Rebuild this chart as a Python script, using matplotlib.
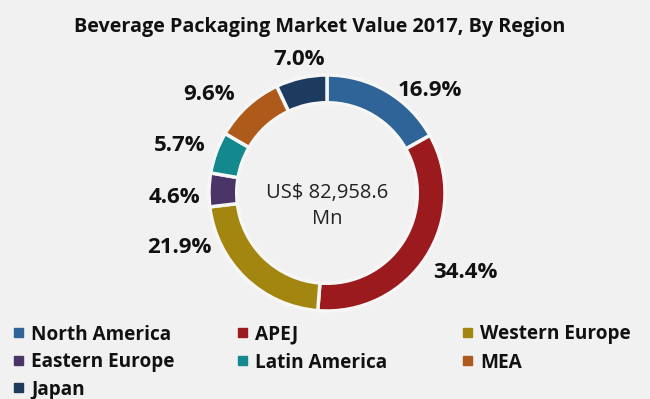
import matplotlib
matplotlib.use("Agg")
import matplotlib.pyplot as plt
from matplotlib.patches import Rectangle

regions = ["North America", "APEJ", "Western Europe", "Eastern Europe",
           "Latin America", "MEA", "Japan"]
shares = [16.9, 34.4, 21.9, 4.6, 5.7, 9.6, 7.0]
colors = ["#2e6497", "#9a1a1d", "#a3860f", "#4b3466", "#13888d", "#ae5a1a", "#1c3b5e"]
title = "Beverage Packaging Market Value 2017, By Region"
center_text = "US$ 82,958.6\nMn"

# label positions in units of the outer radius
label_pos = [(0.87, 0.89), (1.17, -0.65), (-1.25, -0.44), (-1.29, -0.02),
             (-1.25, 0.42), (-1.0, 0.86), (-0.24, 1.15)]

plt.rcParams['font.family'] = ['Open Sans', 'DejaVu Sans']
W, H = 650, 399
fig = plt.figure(figsize=(W/100, H/100), dpi=100)
fig.patch.set_facecolor("#f1f1f1")

cx, cy, r = 327, 193, 118
ax = fig.add_axes([(cx - r)/W, (H - cy - r)/H, 2*r/W, 2*r/H])
ax.set_facecolor("none")
wedges, _ = ax.pie(shares, colors=colors, startangle=90, counterclock=False,
                   radius=1, wedgeprops=dict(width=0.235, edgecolor="#f6f6f6", linewidth=2.5))
ax.set_xlim(-1, 1); ax.set_ylim(-1, 1)
ax.set_aspect("equal")
ax.axis("off")

for (x, y), s in zip(label_pos, shares):
    ax.text(x, y, f"{s:.1f}%", ha="center", va="center_baseline", fontsize=16,
            fontweight="bold", color="#111111")
ax.text(0, -13/r, center_text, ha="center", va="center", fontsize=14.5,
        color="#222222", linespacing=1.35)

fig.text(0.492, 1 - 32/H, title, ha="center", va="baseline", fontsize=14.2,
         fontweight="bold", color="#111111")

# legend, row-major, 3 columns
col_x = [18, 242, 467]
row_y = [332, 360, 387]
sq = 9
for i, (name, c) in enumerate(zip(regions, colors)):
    rr, cc = divmod(i, 3)
    mx, my = col_x[cc], row_y[rr]
    fig.patches.append(Rectangle(((mx - sq/2)/W, (H - my - sq/2)/H), sq/W, sq/H,
                                 transform=fig.transFigure, color=c, figure=fig))
    fig.text((mx + 13)/W, 1 - my/H, name, ha="left", va="center_baseline",
             fontsize=13.7, fontweight="bold", color="#111111")

fig.savefig("out.png", dpi=100, facecolor=fig.get_facecolor())
